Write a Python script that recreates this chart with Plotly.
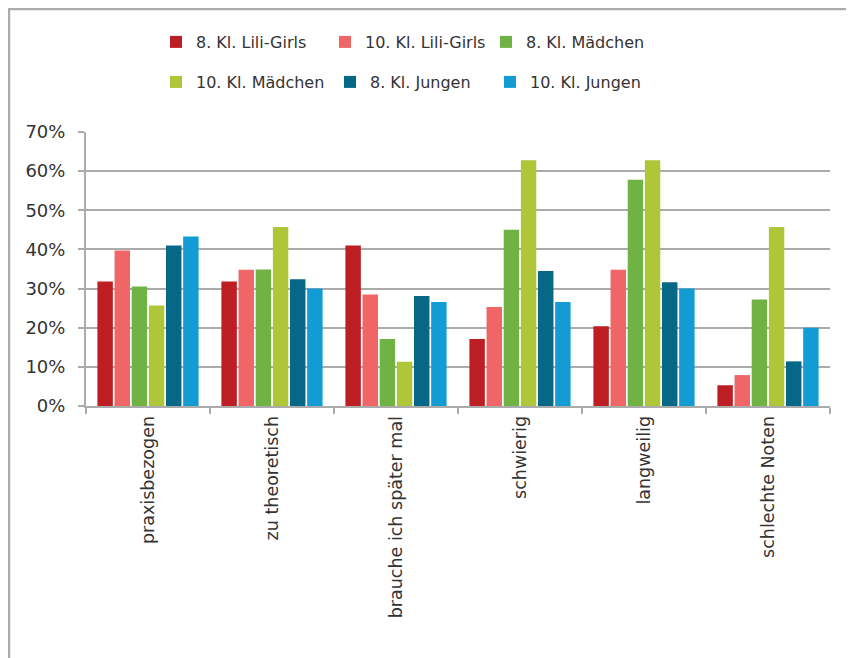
import plotly.graph_objects as go

categories = ["praxisbezogen", "zu theoretisch", "brauche ich später mal",
              "schwierig", "langweilig", "schlechte Noten"]

series_names = ["8. Kl. Lili-Girls", "10. Kl. Lili-Girls", "8. Kl. Mädchen",
                "10. Kl. Mädchen", "8. Kl. Jungen", "10. Kl. Jungen"]

kl8_lili = [0.318, 0.318, 0.410, 0.171, 0.204, 0.053]
kl10_lili = [0.397, 0.348, 0.285, 0.253, 0.348, 0.079]
kl8_maedchen = [0.305, 0.349, 0.171, 0.450, 0.578, 0.272]
kl10_maedchen = [0.257, 0.457, 0.113, 0.628, 0.628, 0.457]
kl8_jungen = [0.410, 0.324, 0.281, 0.345, 0.316, 0.114]
kl10_jungen = [0.433, 0.300, 0.266, 0.266, 0.300, 0.200]

colors = ["#BD1E24", "#F06565", "#71B244", "#AEC637", "#066787", "#139CD3"]

values = [kl8_lili, kl10_lili, kl8_maedchen, kl10_maedchen, kl8_jungen, kl10_jungen]

# page offset of the figure inside the browser (body margin)
OFF = 8
W, H = 854 - OFF, 658 - OFF
L, R, T, B = 86 - OFF, 24, 132 - OFF, 260 - OFF
pw, ph = W - L - R, H - T - B

legend_names = ["legend", "legend2", "legend3", "legend4", "legend5", "legend6"]
# legend entry positions in page pixels (left of entry, vertical centre)
legend_x = [156, 325, 486, 156, 330, 490]
legend_y = [42, 42, 42, 82, 82, 82]

fig = go.Figure()
for name, vals, col, lg in zip(series_names, values, colors, legend_names):
    fig.add_trace(go.Bar(
        x=categories, y=vals, name=name,
        marker=dict(color=col, line=dict(width=0)),
        legend=lg, showlegend=True,
    ))

legend_font = dict(family="DejaVu Sans, sans-serif", size=16, color="#333333")

def px_x(p):
    return (p - OFF - L) / pw

def px_y(p):
    return (H + OFF - B - p) / ph

legends = {}
for lg, lx, ly in zip(legend_names, legend_x, legend_y):
    legends[lg] = dict(orientation="h", x=(lx - OFF) / W, xref="container",
                       xanchor="left", y=1 - (ly - OFF) / H, yref="container",
                       yanchor="middle", font=legend_font, visible=True,
                       bgcolor="rgba(0,0,0,0)")

grid_col = "#ABABAB"
fig.update_layout(
    width=W, height=H,
    showlegend=True,
    margin=dict(l=L, r=R, t=T, b=B),
    paper_bgcolor="white", plot_bgcolor="white",
    barmode="group", bargap=0.17, bargroupgap=0.1,
    font=dict(family="DejaVu Sans, sans-serif", size=17, color="#404040"),
    xaxis=dict(showline=True, linecolor=grid_col, linewidth=2,
               ticks="outside", tickson="boundaries", ticklen=6, tickcolor=grid_col,
               tickwidth=2, tickangle=-90, showgrid=False,
               ticklabelstandoff=1,
               tickfont=dict(size=17.5, color="#333333")),
    yaxis=dict(range=[0, 0.7], dtick=0.1, tickformat=".0%",
               showline=True, linecolor=grid_col, linewidth=2,
               ticks="outside", ticklen=6, tickcolor=grid_col, tickwidth=2,
               showgrid=True, gridcolor=grid_col, gridwidth=2,
               zeroline=False, tickfont=dict(size=18, color="#333333"),
               ticklabelstandoff=9),
    shapes=[
        dict(type="line", xref="paper", yref="paper",
             x0=px_x(9), x1=px_x(9), y0=px_y(9), y1=px_y(H + 20),
             line=dict(color="#ABABAB", width=2.5)),
        dict(type="line", xref="paper", yref="paper",
             x0=px_x(8), x1=px_x(W + 20), y0=px_y(9), y1=px_y(9),
             line=dict(color="#ABABAB", width=2.5)),
    ],
    **legends,
)

fig.write_html("out.html")
